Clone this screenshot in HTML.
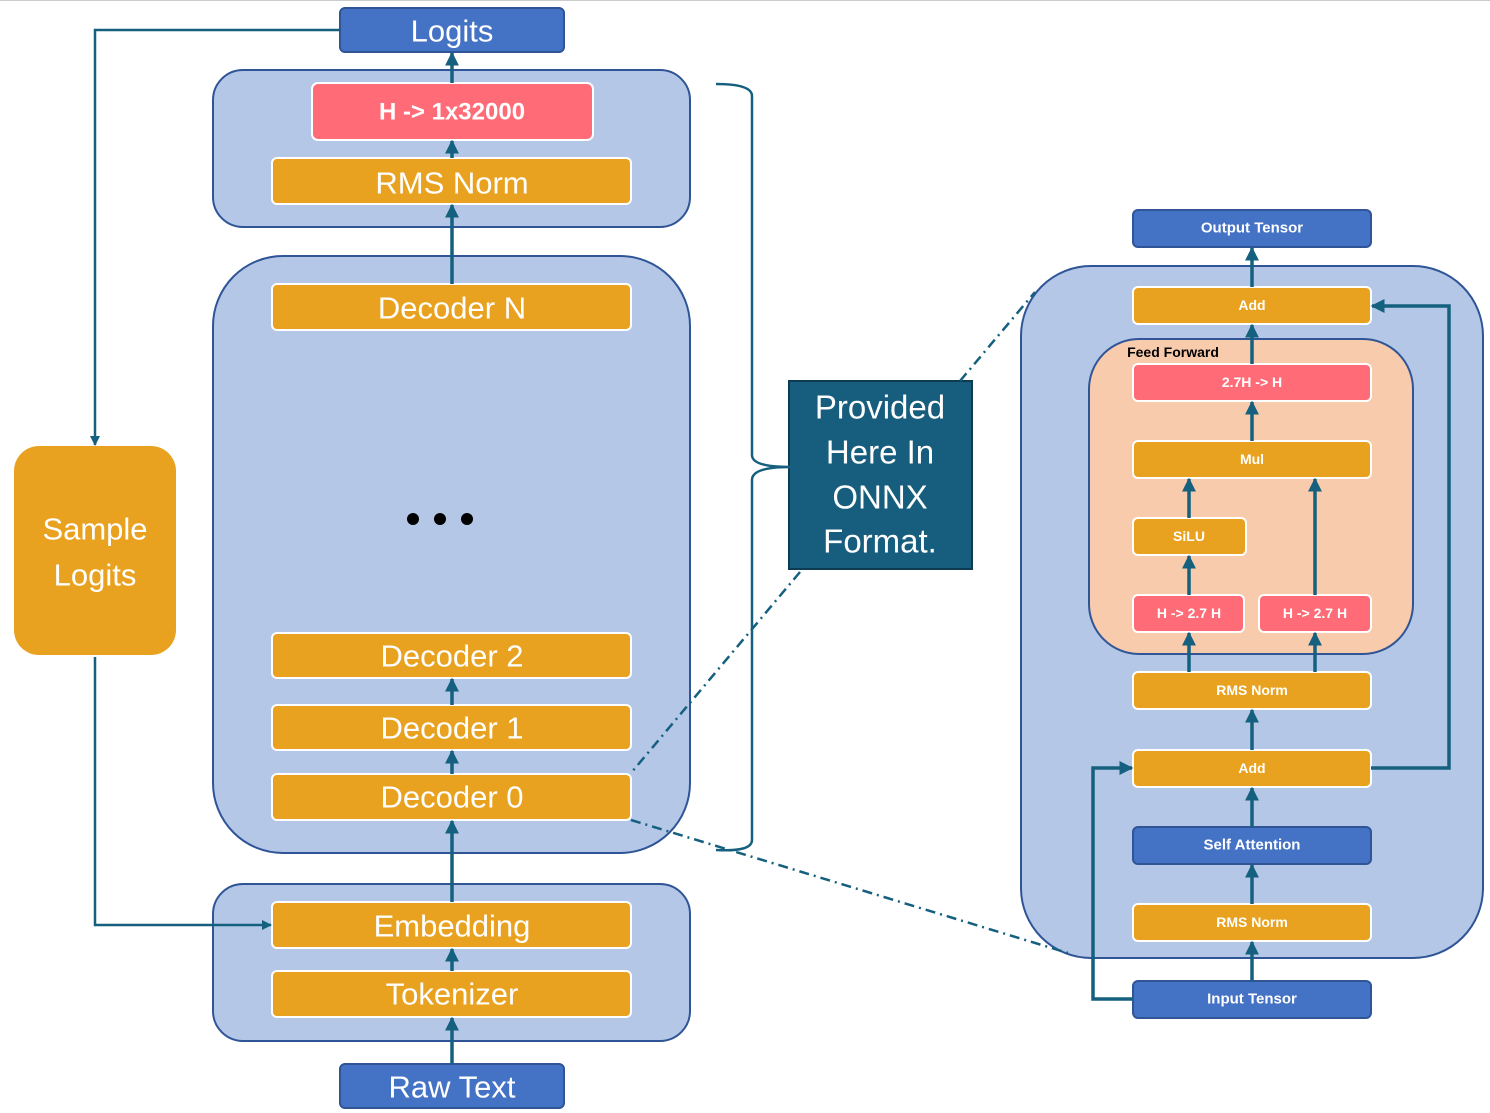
<!DOCTYPE html>
<html><head><meta charset="utf-8"><style>
html,body{margin:0;padding:0;background:#fff;width:1490px;height:1113px;overflow:hidden}
text{font-family:"Liberation Sans","DejaVu Sans",sans-serif;fill:#fff;text-anchor:middle;dominant-baseline:central}
</style></head><body>
<svg width="1490" height="1113" viewBox="0 0 1490 1113" xmlns="http://www.w3.org/2000/svg">
<defs>
<marker id="a" viewBox="0 0 10 10" refX="9" refY="5" markerWidth="4" markerHeight="4" orient="auto-start-reverse"><path d="M0,0L10,5L0,10z" fill="#15607F"/></marker>
</defs>
<line x1="0" y1="0.5" x2="1490" y2="0.5" stroke="#ccc"/>
<g stroke="#2F5597" stroke-width="2" fill="#B4C7E7">
<rect x="213" y="70" width="477" height="157" rx="30"/>
<rect x="213" y="256" width="477" height="597" rx="70"/>
<rect x="213" y="884" width="477" height="157" rx="30"/>
<rect x="1021" y="266" width="462" height="692" rx="70"/>
<rect x="1089" y="339" width="324" height="315" rx="50" fill="#F8CBAD"/>
</g>
<g stroke="#2F5597" stroke-width="2" fill="#4472C4">
<rect x="340" y="8" width="224" height="44" rx="5"/>
<rect x="340" y="1064" width="224" height="44" rx="5"/>
<rect x="1133" y="210" width="238" height="37" rx="5"/>
<rect x="1133" y="827" width="238" height="37" rx="5"/>
<rect x="1133" y="981" width="238" height="37" rx="5"/>
</g>
<g stroke="#fff" stroke-width="2" fill="#E9A21F">
<rect x="272" y="158" width="359" height="46" rx="5"/>
<rect x="272" y="284" width="359" height="46" rx="5"/>
<rect x="272" y="633" width="359" height="45" rx="5"/>
<rect x="272" y="705" width="359" height="45" rx="5"/>
<rect x="272" y="774" width="359" height="46" rx="5"/>
<rect x="272" y="902" width="359" height="46" rx="5"/>
<rect x="272" y="971" width="359" height="46" rx="5"/>
<rect x="1133" y="287" width="238" height="37" rx="5"/>
<rect x="1133" y="441" width="238" height="37" rx="5"/>
<rect x="1133" y="518" width="113" height="37" rx="5"/>
<rect x="1133" y="672" width="238" height="37" rx="5"/>
<rect x="1133" y="750" width="238" height="37" rx="5"/>
<rect x="1133" y="904" width="238" height="37" rx="5"/>
</g>
<rect x="14" y="446" width="162" height="209" rx="25" fill="#E9A21F"/>
<g stroke="#fff" stroke-width="2" fill="#FF6B76">
<rect x="312" y="83" width="281" height="57" rx="6"/>
<rect x="1133" y="364" width="238" height="37" rx="5"/>
<rect x="1133" y="595" width="111" height="37" rx="5"/>
<rect x="1259" y="595" width="112" height="37" rx="5"/>
</g>
<rect x="789" y="381" width="183" height="188" fill="#175E7E" stroke="#0d3b4f" stroke-width="2"/>
<g stroke="#15607F" stroke-width="3.5" fill="none" marker-end="url(#a)">
<line x1="452" y1="83" x2="452" y2="53"/>
<line x1="452" y1="158" x2="452" y2="141"/>
<line x1="452" y1="284" x2="452" y2="205"/>
<line x1="452" y1="705" x2="452" y2="679"/>
<line x1="452" y1="774" x2="452" y2="751"/>
<line x1="452" y1="902" x2="452" y2="821"/>
<line x1="452" y1="971" x2="452" y2="949"/>
<line x1="452" y1="1064" x2="452" y2="1018"/>
<line x1="1252" y1="287" x2="1252" y2="248"/>
<line x1="1252" y1="364" x2="1252" y2="325"/>
<line x1="1252" y1="441" x2="1252" y2="402"/>
<line x1="1189" y1="518" x2="1189" y2="479"/>
<line x1="1315" y1="595" x2="1315" y2="479"/>
<line x1="1189" y1="595" x2="1189" y2="556"/>
<line x1="1189" y1="672" x2="1189" y2="633"/>
<line x1="1315" y1="672" x2="1315" y2="633"/>
<line x1="1252" y1="750" x2="1252" y2="710"/>
<line x1="1252" y1="827" x2="1252" y2="788"/>
<line x1="1252" y1="904" x2="1252" y2="865"/>
<line x1="1252" y1="981" x2="1252" y2="942"/>
<polyline points="1133,999 1093,999 1093,768 1132,768"/>
<polyline points="1371,768 1449,768 1449,306 1372,306"/>
</g>
<g stroke="#15607F" stroke-width="2.5" fill="none" marker-end="url(#a)">
<polyline points="340,30 95,30 95,445"/>
<polyline points="95,657 95,925 271,925"/>
</g>
<path d="M716,84 Q752,84 752,96 L752,455 Q752,467 790,467 Q752,467 752,480 L752,840 Q752,852 716,850" stroke="#15607F" stroke-width="2.5" fill="none"/>
<g stroke="#15607F" stroke-width="2.5" stroke-dasharray="10,5,2,5" fill="none">
<line x1="960" y1="381" x2="1035" y2="292"/>
<line x1="800" y1="572" x2="631" y2="773"/>
<line x1="631" y1="820" x2="1068" y2="953"/>
</g>
<g fill="#000"><circle cx="413" cy="519" r="6"/><circle cx="440" cy="519" r="6"/><circle cx="467" cy="519" r="6"/></g>
<g font-size="31">
<text x="452" y="31">Logits</text>
<text x="452" y="183">RMS Norm</text>
<text x="452" y="308">Decoder N</text>
<text x="452" y="656">Decoder 2</text>
<text x="452" y="728">Decoder 1</text>
<text x="452" y="797">Decoder 0</text>
<text x="452" y="926">Embedding</text>
<text x="452" y="994">Tokenizer</text>
<text x="452" y="1087">Raw Text</text>
<text x="95" y="529">Sample</text>
<text x="95" y="575">Logits</text>
<text x="880" y="407" font-size="33">Provided</text>
<text x="880" y="452" font-size="33">Here In</text>
<text x="880" y="497" font-size="33">ONNX</text>
<text x="880" y="541" font-size="33">Format.</text>
</g>
<text x="452" y="112" font-size="24" font-weight="bold">H -&gt; 1x32000</text>
<g font-size="15" font-weight="bold">
<text x="1252" y="228">Output Tensor</text>
<text x="1252" y="305" font-size="14">Add</text>
<text x="1252" y="382" font-size="14">2.7H -&gt; H</text>
<text x="1252" y="459" font-size="14">Mul</text>
<text x="1189" y="536" font-size="14">SiLU</text>
<text x="1189" y="613" font-size="14">H -&gt; 2.7 H</text>
<text x="1315" y="613" font-size="14">H -&gt; 2.7 H</text>
<text x="1252" y="690" font-size="14">RMS Norm</text>
<text x="1252" y="768" font-size="14">Add</text>
<text x="1252" y="845">Self Attention</text>
<text x="1252" y="922" font-size="14">RMS Norm</text>
<text x="1252" y="999">Input Tensor</text>
<text x="1173" y="352" font-size="14" style="fill:#000">Feed Forward</text>
</g>
</svg>
</body></html>
